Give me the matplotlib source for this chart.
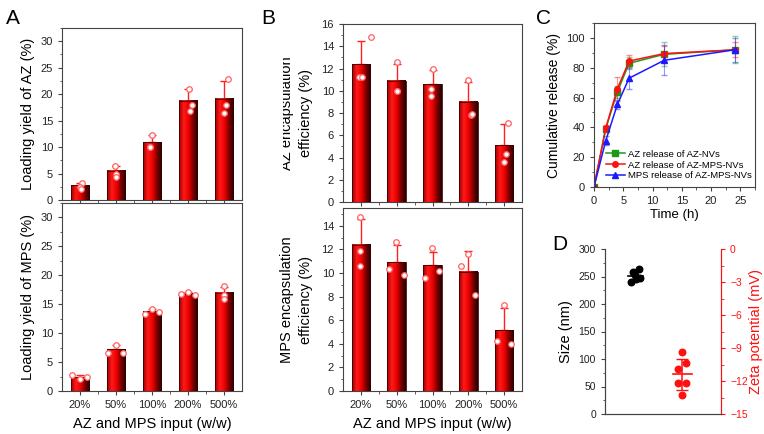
import matplotlib
matplotlib.use("Agg")
import matplotlib.pyplot as plt
from matplotlib.colors import LinearSegmentedColormap
from matplotlib.ticker import AutoMinorLocator
from matplotlib.transforms import Bbox, TransformedBbox
import numpy as np

plt.rcParams['font.family'] = ['Liberation Sans', 'DejaVu Sans']

# ---- data ----
inputs = ['20%', '50%', '100%', '200%', '500%']

az_yield = [2.8, 5.5, 10.9, 18.8, 19.1]
az_yield_err = [0.5, 0.9, 1.3, 2.1, 3.4]
az_yield_pts = [[3.2, 2.4, 2.1], [6.5, 4.9, 4.3], [12.3, 10.0, 10.0], [21.0, 18.0, 16.9], [22.9, 17.9, 16.4]]
az_yield_dx = [[0.06, 0.01, 0.04], [-0.02, 0.01, 0.01], [0.0, -0.05, -0.05], [0.03, 0.1, 0.06], [0.12, 0.06, 0.0]]

mps_yield = [2.4, 7.2, 13.8, 16.8, 17.0]
mps_yield_err = [0.3, 0.7, 0.4, 0.3, 1.0]
mps_yield_pts = [[2.7, 2.0, 2.5], [6.5, 8.0, 6.5], [13.3, 14.2, 13.6], [16.7, 17.2, 16.6], [18.1, 16.6, 15.9]]
mps_yield_dx = [[-0.23, 0.0, 0.19], [-0.22, 0.0, 0.2], [-0.2, 0.0, 0.2], [-0.2, 0.0, 0.2], [0.0, 0.0, 0.0]]

az_ee = [12.4, 10.9, 10.6, 9.0, 5.1]
az_ee_err = [2.1, 1.5, 1.3, 1.8, 1.9]
az_ee_pts = [[14.8, 11.2, 11.2], [12.6, 10.0, 10.0], [12.0, 10.15, 9.5], [11.0, 7.85, 7.95], [7.1, 4.3, 3.56]]
az_ee_dx = [[0.28, -0.04, 0.03], [0.0, 0.0, 0.0], [0.0, -0.05, -0.05], [0.0, 0.07, 0.1], [0.12, 0.04, 0.0]]

mps_ee = [12.4, 10.9, 10.65, 10.1, 5.15]
mps_ee_err = [2.2, 1.5, 1.15, 1.8, 1.85]
mps_ee_pts = [[14.7, 11.9, 10.6], [12.6, 10.3, 9.83], [12.07, 9.6, 10.2], [10.6, 11.6, 8.16], [7.3, 4.2, 3.97]]
mps_ee_dx = [[-0.02, -0.03, -0.03], [-0.02, -0.22, 0.19], [-0.02, -0.21, 0.19], [-0.2, 0.0, 0.2], [0.0, -0.2, 0.2]]

time_h = [0, 2, 4, 6, 12, 24]
rel_az_nv = [0, 39, 64, 83, 89, 92]
rel_az_nv_err = [0, 2, 4, 4, 8, 9]
rel_az_mps = [0, 39.5, 66, 84.5, 89.5, 92]
rel_az_mps_err = [0, 2, 8, 4, 5, 5]
rel_mps = [0, 31, 55.5, 73, 85, 92]
rel_mps_err = [0, 3, 3, 7, 10, 8]

size_nm = [263, 258, 253, 247, 245, 240]
size_dx = [0.11, -0.09, 0.0, 0.17, 0.03, -0.17]
zeta_mv = [-9.36, -10.4, -10.9, -12.2, -12.2, -13.3]
zeta_dx = [0.0, 0.15, -0.14, -0.14, 0.16, 0.0]

W, H = 764, 434
fig = plt.figure(figsize=(W / 100, H / 100), dpi=100)


def ax_px(l, t, r, b):
    return fig.add_axes([l / W, 1 - b / H, (r - l) / W, (b - t) / H])


bar_cmap = LinearSegmentedColormap.from_list(
    'barg', ['#a00000', '#ff1a1a', '#ee0000', '#7a0000', '#250000'])
grad = np.linspace(0, 1, 64).reshape(1, -1)
spine_col = '#444444'


def style(ax, fs=8):
    for s in ax.spines.values():
        s.set_color(spine_col)
        s.set_linewidth(0.8)
    ax.tick_params(direction='out', length=3, width=0.8, color=spine_col, labelsize=fs, labelcolor='#222222')
    ax.tick_params(which='minor', length=1.8, width=0.6, color=spine_col)


def bar_panel(ax, vals, err, pts, dx, ymax, ystep):
    x = np.arange(len(vals))
    w = 0.52
    ax.errorbar(x, vals, yerr=[np.zeros(len(vals)), err], fmt='none', ecolor='#ff2020',
                elinewidth=1.0, capsize=3, capthick=1.0, zorder=2)
    for i, v in enumerate(vals):
        ax.imshow(grad, cmap=bar_cmap, extent=[x[i] - w / 2, x[i] + w / 2, 0, v],
                  aspect='auto', zorder=3, interpolation='bilinear')
    ax.bar(x, vals, width=w, facecolor='none', edgecolor='#3a0000', linewidth=0.6, zorder=4)
    for i in range(len(vals)):
        ax.scatter(x[i] + np.array(dx[i]), pts[i], s=16, facecolor='white',
                   edgecolor='#ff6060', linewidth=0.9, zorder=5)
    ax.set_xlim(-0.5, len(vals) - 0.5)
    ax.set_ylim(0, ymax)
    ax.set_yticks(np.arange(0, ymax, ystep))
    ax.yaxis.set_minor_locator(AutoMinorLocator(2))
    ax.set_xticks(x)
    ax.set_xticks(x[:-1] + 0.5, minor=True)
    style(ax)


# ---- A ----
axA1 = ax_px(62, 28, 242, 200)
bar_panel(axA1, az_yield, az_yield_err, az_yield_pts, az_yield_dx, 32.5, 5)
axA1.set_xticklabels([])
axA1.set_ylabel('Loading yield of AZ (%)', fontsize=10.5)

axA2 = ax_px(62, 203, 242, 391)
bar_panel(axA2, mps_yield, mps_yield_err, mps_yield_pts, mps_yield_dx, 32.5, 5)
axA2.set_xticklabels(inputs)
axA2.set_ylabel('Loading yield of MPS (%)', fontsize=10.5)
axA2.set_xlabel('AZ and MPS input (w/w)', fontsize=10.5, labelpad=5)

# ---- B ----
axB1 = ax_px(343, 24, 522, 202)
bar_panel(axB1, az_ee, az_ee_err, az_ee_pts, az_ee_dx, 16.01, 2)
axB1.set_xticklabels([])
axB1.set_ylabel('AZ encapsulation\nefficiency (%)', fontsize=10.5, linespacing=1.45, labelpad=6)
# the first label line is cut in the original figure
axB1.yaxis.label.set_clip_box(TransformedBbox(Bbox.from_extents(283 / W, 0, 1, 1), fig.transFigure))
axB1.yaxis.label.set_clip_on(True)

axB2 = ax_px(343, 208, 522, 391)
bar_panel(axB2, mps_ee, mps_ee_err, mps_ee_pts, mps_ee_dx, 15.5, 2)
axB2.set_xticklabels(inputs)
axB2.set_ylabel('MPS encapsulation\nefficiency (%)', fontsize=10.5, linespacing=1.45, labelpad=6)
axB2.set_xlabel('AZ and MPS input (w/w)', fontsize=10.5, labelpad=5)

# ---- C ----
axC = ax_px(594, 23, 755, 187)
series = [(rel_az_nv, rel_az_nv_err, '#1a9a1a', 's', 'AZ release of AZ-NVs'),
          (rel_az_mps, rel_az_mps_err, '#ff1010', 'o', 'AZ release of AZ-MPS-NVs'),
          (rel_mps, rel_mps_err, '#1a1aff', '^', 'MPS release of AZ-MPS-NVs')]
for vals, err, col, mk, lab in series:
    axC.errorbar(time_h, vals, yerr=err, fmt='none', ecolor=col, alpha=0.45,
                 elinewidth=0.8, capsize=2)
    axC.plot(time_h, vals, color=col, marker=mk, markersize=4, linewidth=1.1, label=lab)
axC.set_xlim(0, 27.5)
axC.set_ylim(0, 110)
axC.set_xticks([0, 5, 10, 15, 20, 25])
axC.set_yticks([0, 20, 40, 60, 80, 100])
axC.xaxis.set_minor_locator(AutoMinorLocator(2))
axC.yaxis.set_minor_locator(AutoMinorLocator(2))
style(axC)
axC.set_xlabel('Time (h)', fontsize=9.5, labelpad=2)
axC.set_ylabel('Cumulative release (%)', fontsize=10)
axC.legend(loc='lower right', bbox_to_anchor=(1.02, 0.0), fontsize=6.8, frameon=False,
           handlelength=2.0, borderaxespad=0.3, labelspacing=0.2, handletextpad=0.3)

# ---- D ----
axD = ax_px(605, 249, 721, 414)
axD2 = axD.twinx()
xs = 1.05 + np.array(size_dx)
axD.scatter(xs, size_nm, s=22, color='black', zorder=3)
m, sd = np.mean(size_nm), np.std(size_nm, ddof=1)
axD.errorbar([1.05], [m], yerr=[sd], fmt='none', ecolor='black', capsize=3, elinewidth=1)
axD.plot([0.8, 1.3], [m, m], color='black', linewidth=1.2)
xz = 2.65 + np.array(zeta_dx)
axD2.scatter(xz, zeta_mv, s=22, color='#ff1010', zorder=3)
mz, sz = np.mean(zeta_mv), np.std(zeta_mv, ddof=1)
axD2.errorbar([2.65], [mz], yerr=[sz], fmt='none', ecolor='#ff1010', capsize=4, elinewidth=1.1)
axD2.plot([2.35, 3.0], [mz, mz], color='#ff1010', linewidth=1.2)
axD.set_xlim(0, 4)
axD.set_ylim(0, 300)
axD.set_yticks(np.arange(0, 301, 50))
axD.yaxis.set_minor_locator(AutoMinorLocator(2))
axD2.set_ylim(-15, 0)
axD2.set_yticks(np.arange(-15, 1, 3))
axD2.yaxis.set_minor_locator(AutoMinorLocator(2))
axD.set_xticks([])
style(axD, fs=7.5)
style(axD2, fs=7.5)
axD.spines['top'].set_visible(False)
axD2.spines['top'].set_visible(False)
axD2.spines['right'].set_color('#ff1010')
axD2.tick_params(axis='y', colors='#ff1010', labelcolor='#ff1010')
axD2.tick_params(axis='y', which='minor', colors='#ff1010')
axD.set_ylabel('Size (nm)', fontsize=10.5)
axD2.set_ylabel('Zeta potential (mV)', fontsize=10.5, color='#ff1010', labelpad=1)

# panel letters
for lab, px, py in [('A', 6, 18), ('B', 261, 18), ('C', 536, 18), ('D', 552, 244)]:
    fig.text(px / W, 1 - py / H, lab, fontsize=15, ha='left', va='center')

fig.savefig('out.png', dpi=100)
